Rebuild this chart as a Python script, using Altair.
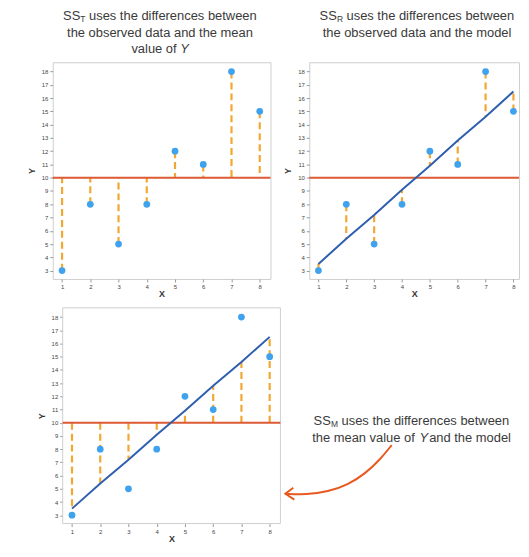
import altair as alt
import pandas as pd

# ---- data ----
x_vals = [1, 2, 3, 4, 5, 6, 7, 8]
y_vals = [3, 8, 5, 8, 12, 11, 18, 15]
fitted_vals = [3.5, 5.4, 7.2, 9.1, 10.9, 12.8, 14.6, 16.5]
y_mean = 10
x_ticks = [1, 2, 3, 4, 5, 6, 7, 8]
y_ticks = list(range(3, 19))

# ---- texts ----
t1_sub, t1_rest = "T", " uses the differences between"
t1_l2 = "the observed data and the mean"
t1_l3a, t1_l3b = "value of ", "Y"
t2_sub, t2_rest = "R", " uses the differences between"
t2_l2 = "the observed data and the model"
t3_sub, t3_rest = "M", " uses the differences between"
t3_l2a, t3_l2b, t3_l2c = "the mean value of ", "Y", "and the model"

# arrow path for the annotation (pixels inside the annotation view)
arrow_x = [108, 96, 81, 64, 44, 22, 1]
arrow_y = [138, 153, 167, 178, 185, 188, 187]
head_x = [9, 1, 10]
head_y = [181, 187, 193]

FONT = "Liberation Sans"
TXT = "#3a3a3a"
BLUE_PT = "#3fa2ee"
ORANGE = "#f2a733"
RED = "#dc5a34"
BLUE_LN = "#2f5fae"
ARROW = "#e8591f"
FRAME = "#cfcfcf"

CW = {" ": 278, "a": 556, "b": 556, "c": 500, "d": 556, "e": 556, "f": 278,
      "h": 556, "i": 222, "l": 222, "m": 833, "n": 556, "o": 556, "r": 333,
      "s": 500, "t": 278, "u": 556, "v": 500, "w": 722, "S": 667, "T": 611,
      "R": 722, "M": 833, "Y": 667}


def seg_width(t, size):
    return sum(CW.get(c, 556) for c in t) * size / 1000.0


one = alt.InlineData(values=[{"k": 0}])


def line_layers(segs, cx, cy, gap=0.0):
    total = sum(seg_width(t, s) for t, s, st, dy in segs) + gap * (len(segs) - 1)
    x = cx - total / 2.0
    out = []
    for t, s, st, dy in segs:
        lead = len(t) - len(t.lstrip(" "))
        core = t.strip(" ")
        xx = x + seg_width(" " * lead, s)
        out.append(
            alt.Chart(one).mark_text(align="left", baseline="middle", font=FONT,
                                     fontSize=s, fontStyle=st, color=TXT)
            .encode(x=alt.value(round(xx, 1)), y=alt.value(cy + dy),
                    text=alt.value(core))
        )
        x += seg_width(t, s) + gap
    return out


FS = 13
SUB = 8.5
PH1 = 218
PH3 = 217

df = pd.DataFrame({"x": x_vals, "y": y_vals, "fit": fitted_vals,
                   "ymean": [y_mean] * len(x_vals)})
df_mean = pd.DataFrame({"m": [y_mean]})

ys = alt.Scale(domain=[2.37, 18.7], nice=False, zero=False)


def panel_enc(xdom, yoff=0, title_x=None):
    xs = alt.Scale(domain=xdom, nice=False, zero=False)
    xa = dict(values=x_ticks, title="X", titlePadding=0)
    if title_x is not None:
        xa["titleX"] = title_x
    x_axis = alt.Axis(**xa)
    ya = dict(values=y_ticks, title="Y", titlePadding=5)
    if yoff:
        ya["offset"] = yoff
    y_axis = alt.Axis(**ya)
    X = alt.X("x:Q", scale=xs, axis=x_axis)

    def Y(f):
        return alt.Y(f, scale=ys, axis=y_axis)
    return X, Y


def mean_rule(Y, x0=None, x1=None):
    enc = dict(y=Y("m:Q"))
    if x0 is not None:
        enc["x"] = alt.value(x0)
        enc["x2"] = alt.value(x1)
    return alt.Chart(df_mean).mark_rule(color=RED, strokeWidth=2).encode(**enc)


def points(X, Y):
    return alt.Chart(df).mark_circle(size=46, color=BLUE_PT, opacity=1).encode(
        x=X, y=Y("y:Q"))


def reg_line(X, Y):
    return alt.Chart(df).mark_line(color=BLUE_LN, strokeWidth=2).encode(
        x=X, y=Y("fit:Q"))


def dashes(X, Y, a, b):
    return alt.Chart(df).mark_rule(color=ORANGE, strokeWidth=2.2,
                                   strokeDash=[7, 4]).encode(
        x=X, y=Y(f"{a}:Q"), y2=alt.Y2(f"{b}:Q"))


def spacer(px):
    return alt.Chart(one).mark_text(text="Y", opacity=0, align="left",
                                    fontSize=9).encode(
        x=alt.value(px), y=alt.value(110))


# Panel 1
X1, Y1 = panel_enc([0.67, 8.38])
p1_titles = (
    line_layers([("SS", FS, "normal", 0), (t1_sub, SUB, "normal", 3),
                 (t1_rest, FS, "normal", 0)], 108, -46)
    + line_layers([(t1_l2, FS, "normal", 0)], 108, -29)
    + line_layers([(t1_l3a, FS, "normal", 0), (t1_l3b, FS, "italic", 0)], 108, -13)
)
p1 = alt.layer(dashes(X1, Y1, "y", "ymean"), mean_rule(Y1), points(X1, Y1),
               spacer(-44), *p1_titles).properties(width=219, height=PH1)

# Panel 2
X2, Y2 = panel_enc([0.67, 8.2])
p2_titles = (
    line_layers([("SS", FS, "normal", 0), (t2_sub, SUB, "normal", 3),
                 (t2_rest, FS, "normal", 0)], 108.5, -46)
    + line_layers([(t2_l2, FS, "normal", 0)], 108.5, -29)
)
p2 = alt.layer(dashes(X2, Y2, "y", "fit"), mean_rule(Y2), reg_line(X2, Y2),
               points(X2, Y2), spacer(-36), *p2_titles).properties(width=211, height=PH1)

# Panel 3 (plot area starts 10px left of its frame)
X3, Y3 = panel_enc([0.318, 8.38], yoff=-10, title_x=119.5)
frame3 = alt.Chart(one).mark_rect(filled=False, stroke=FRAME, strokeWidth=1).encode(
    x=alt.value(10), x2=alt.value(229), y=alt.value(0), y2=alt.value(PH3))
p3 = alt.layer(frame3, dashes(X3, Y3, "ymean", "fit"), mean_rule(Y3, 10, 229),
               reg_line(X3, Y3), points(X3, Y3), spacer(-44)).properties(
    width=229, height=PH3, view=alt.ViewBackground(strokeOpacity=0))

# Annotation view
AW, AH = 236, PH3
ax_scale = alt.Scale(domain=[0, AW], nice=False, zero=False)
ay_scale = alt.Scale(domain=[0, AH], reverse=True, nice=False, zero=False)
curve_df = pd.DataFrame({"ax": arrow_x, "ay": arrow_y, "i": list(range(len(arrow_x)))})
head_df = pd.DataFrame({"ax": head_x, "ay": head_y, "i": list(range(len(head_x)))})
curve = alt.Chart(curve_df).mark_line(color=ARROW, strokeWidth=2,
                                      interpolate="basis").encode(
    x=alt.X("ax:Q", scale=ax_scale, axis=None),
    y=alt.Y("ay:Q", scale=ay_scale, axis=None), order="i:Q")
head = alt.Chart(head_df).mark_line(color=ARROW, strokeWidth=2,
                                    strokeJoin="miter").encode(
    x=alt.X("ax:Q", scale=ax_scale, axis=None),
    y=alt.Y("ay:Q", scale=ay_scale, axis=None), order="i:Q")
ann_texts = (
    line_layers([("SS", FS, "normal", 0), (t3_sub, SUB, "normal", 3),
                 (t3_rest, FS, "normal", 0)], 128, 114)
    + line_layers([(t3_l2a, FS, "normal", 0), (t3_l2b, FS, "italic", 0),
                   (t3_l2c, FS, "normal", 0)], 128, 131, gap=1.0)
)
p4 = alt.layer(curve, head, *ann_texts).properties(
    width=AW, height=AH, view=alt.ViewBackground(strokeOpacity=0))

row1 = alt.hconcat(p1, p2, spacing=0)
row2 = alt.hconcat(p3, p4, spacing=0)

chart = (
    alt.vconcat(row1, row2, spacing=7)
    .properties(padding={"left": 0, "top": 0, "right": 0, "bottom": 0},
                background="white")
    .configure_view(stroke=FRAME, strokeWidth=1)
    .configure_axis(grid=False, domain=False, labelFont=FONT, labelFontSize=6,
                    labelColor="#444", labelPadding=2, tickColor="#999",
                    tickSize=3, tickWidth=1, titleFont=FONT, titleFontSize=9,
                    titleFontWeight="bold", titleColor="#333")
)

chart.save("out.html", embed_options={"renderer": "svg", "actions": False})
